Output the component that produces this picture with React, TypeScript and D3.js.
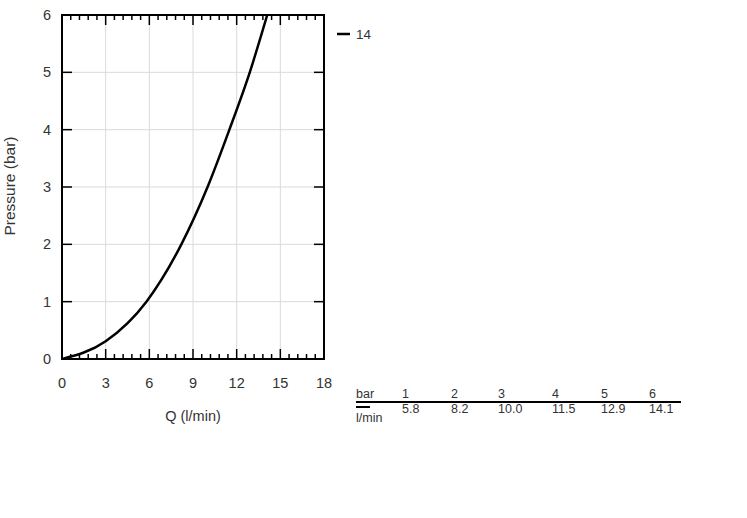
import React from "react";
import * as d3 from "d3";

const curveQ = [0, 3, 5.8, 8.2, 10.0, 11.5, 12.9, 14.1];
const curveP = [0, 0.31, 1.0, 2.0, 3.0, 4.0, 5.0, 6.0];
const xTicks = [0, 3, 6, 9, 12, 15, 18];
const yTicks = [0, 1, 2, 3, 4, 5, 6];
const tableBar = ["1", "2", "3", "4", "5", "6"];
const tableFlow = ["5.8", "8.2", "10.0", "11.5", "12.9", "14.1"];
const legendLabel = "14";

export default function App() {
  const W = 747, H = 518;
  const left = 62, right = 324, top = 15, bottom = 359;
  const x = d3.scaleLinear().domain([0, 18]).range([left, right]);
  const y = d3.scaleLinear().domain([0, 6]).range([bottom, top]);
  const minor = d3.range(1, 30).filter((i) => i % 5 !== 0).map((i) => i * 0.6);
  const pts = curveQ.map((q, i) => [q, curveP[i]] as [number, number]);
  const line = d3
    .line<[number, number]>()
    .x((d) => x(d[0]))
    .y((d) => y(d[1]))
    .curve(d3.curveMonotoneX);
  const font = "'Liberation Sans', Arial, sans-serif";
  const txt = "#333";
  const colX = [402, 451, 498, 552, 601, 649];
  return (
    <div style={{ position: "absolute", left: 0, top: 0 }}>
      <svg width={W} height={H} style={{ display: "block", background: "#fff" }} fontFamily={font}>
        <defs>
          <clipPath id="plotclip">
            <rect x={left} y={top} width={right - left} height={bottom - top} />
          </clipPath>
        </defs>
        {xTicks.slice(1, -1).map((t) => (
          <line key={"gx" + t} x1={x(t)} x2={x(t)} y1={top} y2={bottom} stroke="#dadada" strokeWidth={1} />
        ))}
        {yTicks.slice(1, -1).map((t) => (
          <line key={"gy" + t} x1={left} x2={right} y1={y(t)} y2={y(t)} stroke="#dadada" strokeWidth={1} />
        ))}
        {minor.map((t) => (
          <g key={"mt" + t}>
            <line x1={x(t)} x2={x(t)} y1={top} y2={top + 5} stroke="#000" strokeWidth={1.5} />
            <line x1={x(t)} x2={x(t)} y1={bottom} y2={bottom - 5} stroke="#000" strokeWidth={1.5} />
          </g>
        ))}
        {xTicks.slice(1, -1).map((t) => (
          <g key={"Mt" + t}>
            <line x1={x(t)} x2={x(t)} y1={top} y2={top + 10} stroke="#000" strokeWidth={1.5} />
            <line x1={x(t)} x2={x(t)} y1={bottom} y2={bottom - 10} stroke="#000" strokeWidth={1.5} />
          </g>
        ))}
        {yTicks.slice(1, -1).map((t) => (
          <g key={"My" + t}>
            <line x1={left} x2={left + 10} y1={y(t)} y2={y(t)} stroke="#000" strokeWidth={1.5} />
            <line x1={right} x2={right - 10} y1={y(t)} y2={y(t)} stroke="#000" strokeWidth={1.5} />
          </g>
        ))}
        <path d={line(pts) || ""} fill="none" stroke="#000" strokeWidth={2.5} clipPath="url(#plotclip)" />
        <rect x={left} y={top} width={right - left} height={bottom - top} fill="none" stroke="#000" strokeWidth={2} />
        {xTicks.map((t) => (
          <text key={"xl" + t} x={x(t)} y={388} textAnchor="middle" fontSize={14.5} fill={txt}>
            {t}
          </text>
        ))}
        {yTicks.map((t) => (
          <text key={"yl" + t} x={51} y={y(t) + 5} textAnchor="end" fontSize={14.5} fill={txt}>
            {t}
          </text>
        ))}
        <text x={x(9)} y={421} textAnchor="middle" fontSize={14.5} fill={txt}>
          Q (l/min)
        </text>
        <text transform={`translate(15,186) rotate(-90)`} textAnchor="middle" fontSize={15.5} fill={txt}>
          Pressure (bar)
        </text>
        <line x1={337} x2={350} y1={34} y2={34} stroke="#000" strokeWidth={2.5} />
        <text x={356} y={39} fontSize={13.5} fill={txt}>
          {legendLabel}
        </text>
        <text x={356} y={398} fontSize={12.5} fill={txt}>bar</text>
        <line x1={356} x2={681} y1={402} y2={402} stroke="#000" strokeWidth={2} />
        {tableBar.map((v, i) => (
          <text key={"tb" + i} x={colX[i]} y={398} fontSize={12.5} fill={txt}>
            {v}
          </text>
        ))}
        <line x1={356} x2={370} y1={407} y2={407} stroke="#000" strokeWidth={2} />
        <text x={356} y={422} fontSize={12.5} fill={txt}>l/min</text>
        {tableFlow.map((v, i) => (
          <text key={"tf" + i} x={colX[i]} y={413} fontSize={12.5} fill={txt}>
            {v}
          </text>
        ))}
      </svg>
    </div>
  );
}
